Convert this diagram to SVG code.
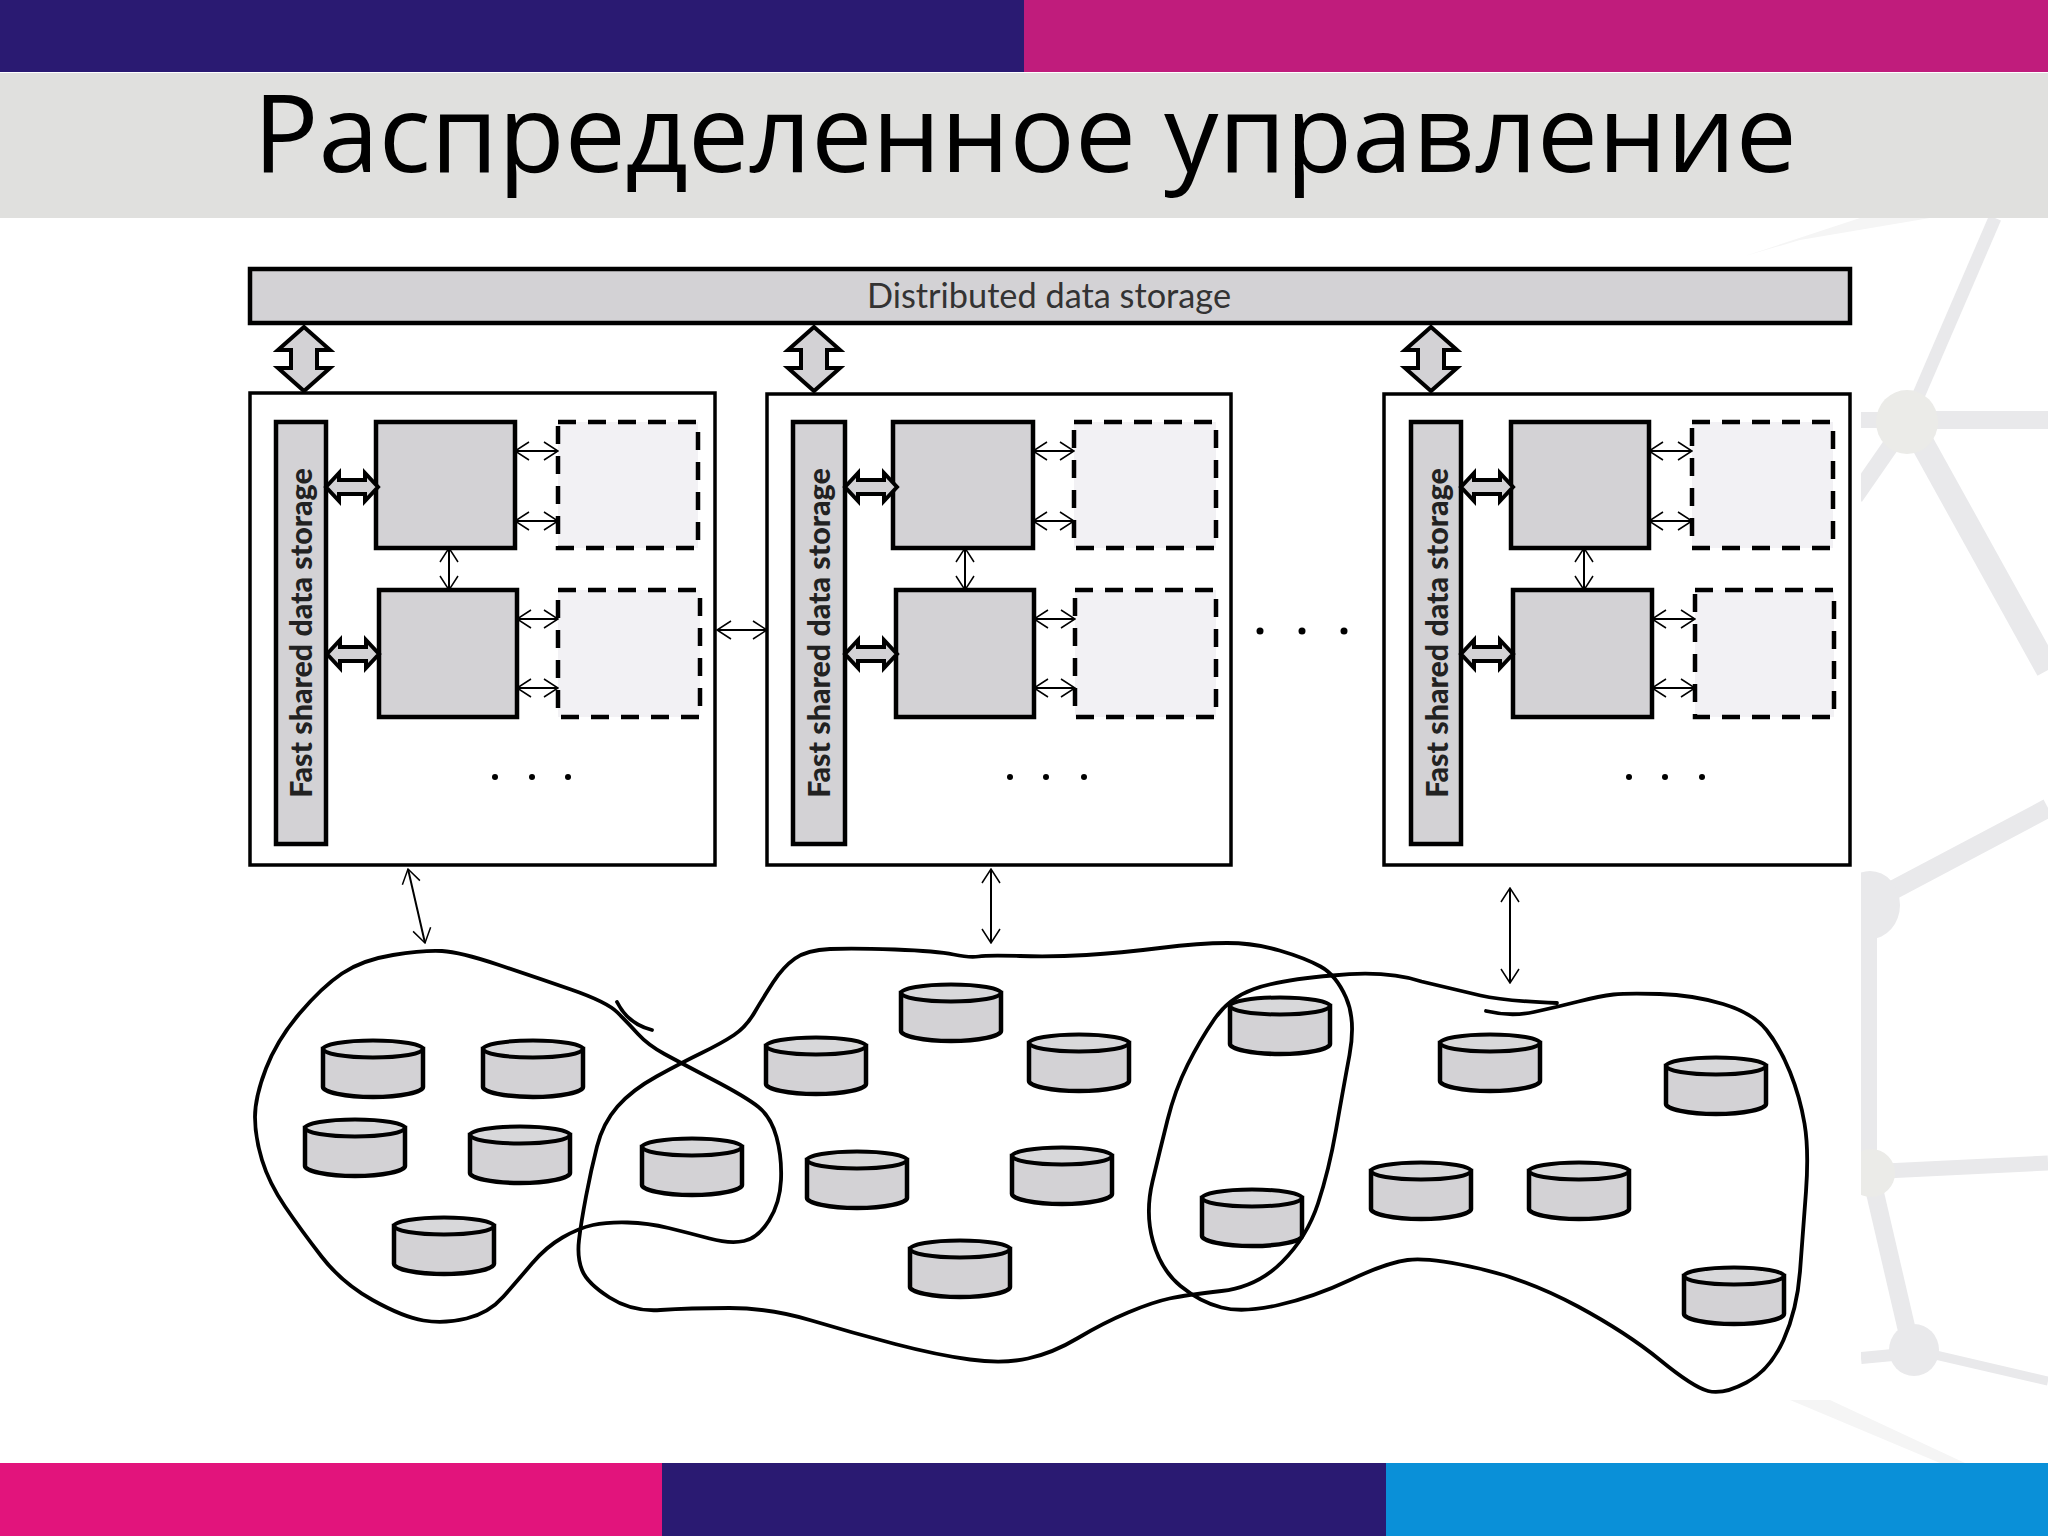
<svg xmlns="http://www.w3.org/2000/svg" width="2048" height="1536" viewBox="0 0 2048 1536">
<style>
.box{fill:#fff;stroke:#000;stroke-width:3.5}
.gray{fill:#d3d2d5;stroke:#000;stroke-width:4.5}
.dash{fill:#f2f1f4;stroke:#000;stroke-width:4.5;stroke-dasharray:18 12}
.thin{stroke:#000;stroke-width:2;fill:none;marker-start:url(#open);marker-end:url(#open)}
.block{fill:#d3d2d5;stroke:#000;stroke-width:4;stroke-linejoin:miter}
.fss{font-family:"Lato","Liberation Sans",sans-serif;font-weight:900;font-size:30.4px;fill:#222;text-anchor:middle}
.blob{fill:none;stroke:#000;stroke-width:3.8;stroke-linecap:round}
.dot{fill:#000}
.net{stroke:#e9e9eb;fill:none}
.hub{fill:#ebebe8}
</style>
<defs>
<marker id="open" viewBox="0 0 16 20" refX="15" refY="10" markerWidth="16" markerHeight="20" markerUnits="userSpaceOnUse" orient="auto-start-reverse"><path d="M1 1L15 10L1 19" fill="none" stroke="#000" stroke-width="1.5"/></marker>
<polygon id="bigv" points="0,1 26,24 13,24 13,42 26,42 0,65 -26,42 -13,42 -13,24 -26,24"/>
<polygon id="smallh" points="0,0 13,-14 13,-7 39,-7 39,-14 52,0 39,14 39,7 13,7 13,14"/>
<g id="cyl"><path d="M2 9V47C2 52 24 57 52 57S102 52 102 47V9Z" fill="#d3d2d5" stroke="#000" stroke-width="4.5"/><ellipse cx="52" cy="9" rx="50" ry="8.5" fill="#d8d8da" stroke="#000" stroke-width="4"/></g>
<clipPath id="netclip"><rect x="1861" y="218" width="187" height="1245"/></clipPath>
</defs>
<rect width="2048" height="1536" fill="#fff"/>
<g id="background-network">
<polygon points="1745,256 1800,240 1930,218 1860,218" fill="#f5f5f5"/>
<polygon points="1790,1400 1830,1400 1965,1463 1940,1463" fill="#f5f5f5"/>
<g clip-path="url(#netclip)">
<path class="net" stroke-width="13" d="M1907 422L1995 218"/>
<path class="net" stroke-width="18" d="M1907 420H2048"/>
<path class="net" stroke-width="16" d="M1907 420H1861"/>
<path class="net" stroke-width="17" d="M1907 422L1855 497"/>
<path class="net" stroke-width="24" d="M1915 430L2048 670"/>
<ellipse class="hub" cx="1907" cy="422" rx="31" ry="32"/>
<path class="net" stroke-width="19" d="M1878 898L2048 808"/>
<path class="net" stroke-width="16" d="M1869 905V1170"/>
<ellipse cx="1870" cy="905" rx="30" ry="34" fill="#e9e9eb"/>
<path class="net" stroke-width="15" d="M1885 1171L2048 1163"/>
<path class="net" stroke-width="18" d="M1872 1180L1908 1335"/>
<ellipse class="hub" cx="1871" cy="1173" rx="24" ry="24"/>
<path class="net" stroke-width="12" d="M1914 1353L1861 1358"/>
<path class="net" stroke-width="9" d="M1914 1350L2048 1381"/>
<ellipse cx="1914" cy="1350" rx="25" ry="26" fill="#e9e9eb"/>
</g>
</g>
<g id="header">
<rect width="1024" height="72" fill="#2a1a72"/>
<rect x="1024" width="1024" height="72" fill="#c01c7c"/>
<rect y="73" width="2048" height="145" fill="#e0e0de"/>
<text x="1025" y="172" font-family="'Open Sans','Noto Sans',sans-serif" font-size="108.6" text-anchor="middle" fill="#000">Распределенное управление</text>
</g>
<g id="footer">
<rect y="1463" width="662" height="73" fill="#e2147c"/>
<rect x="662" y="1463" width="724" height="73" fill="#2a1a72"/>
<rect x="1386" y="1463" width="662" height="73" fill="#0a90d8"/>
</g>
<g id="storage"><rect class="gray" x="250" y="269" width="1600" height="54"/><text x="1049" y="308" font-family="Lato,'Liberation Sans',sans-serif" font-size="34.3" text-anchor="middle" fill="#333">Distributed data storage</text></g>
<g id="module-1">
<rect class="box" x="250" y="393" width="465" height="472"/>
<rect class="gray" x="276" y="422" width="50" height="422"/>
<text class="fss" transform="translate(312 633) rotate(-90)">Fast shared data storage</text>
<rect class="gray" x="376" y="422" width="139" height="126"/>
<rect class="gray" x="379" y="590" width="138" height="127"/>
<rect class="dash" x="558" y="422" width="140" height="126"/>
<rect class="dash" x="558" y="590" width="142" height="127"/>
<circle class="dot" cx="495" cy="777" r="3"/><circle class="dot" cx="532" cy="777" r="3"/><circle class="dot" cx="568" cy="777" r="3"/>
</g>
<g id="module-2">
<rect class="box" x="767" y="394" width="464" height="471"/>
<rect class="gray" x="793" y="422" width="52" height="422"/>
<text class="fss" transform="translate(830 633) rotate(-90)">Fast shared data storage</text>
<rect class="gray" x="893" y="422" width="140" height="126"/>
<rect class="gray" x="896" y="590" width="138" height="127"/>
<rect class="dash" x="1074" y="422" width="142" height="126"/>
<rect class="dash" x="1075" y="590" width="141" height="127"/>
<circle class="dot" cx="1010" cy="777" r="3"/><circle class="dot" cx="1046" cy="777" r="3"/><circle class="dot" cx="1084" cy="777" r="3"/>
</g>
<g id="module-3">
<rect class="box" x="1384" y="394" width="466" height="471"/>
<rect class="gray" x="1411" y="422" width="50" height="422"/>
<text class="fss" transform="translate(1448 633) rotate(-90)">Fast shared data storage</text>
<rect class="gray" x="1511" y="422" width="138" height="126"/>
<rect class="gray" x="1513" y="590" width="139" height="127"/>
<rect class="dash" x="1692" y="422" width="141" height="126"/>
<rect class="dash" x="1695" y="590" width="139" height="127"/>
<circle class="dot" cx="1629" cy="777" r="3"/><circle class="dot" cx="1665" cy="777" r="3"/><circle class="dot" cx="1702" cy="777" r="3"/>
</g>
<g id="ellipsis"><circle class="dot" cx="1260" cy="631" r="3.5"/><circle class="dot" cx="1302" cy="631" r="3.5"/><circle class="dot" cx="1344" cy="631" r="3.5"/></g>
<g id="connectors">
<use href="#bigv" class="block" x="304" y="326"/>
<use href="#bigv" class="block" x="814" y="326"/>
<use href="#bigv" class="block" x="1431" y="326"/>
<use href="#smallh" class="block" x="326" y="487"/><use href="#smallh" class="block" x="327" y="654"/>
<use href="#smallh" class="block" x="845" y="487"/><use href="#smallh" class="block" x="845" y="654"/>
<use href="#smallh" class="block" x="1461" y="487"/><use href="#smallh" class="block" x="1461" y="654"/>
<path class="thin" d="M515 451H558"/><path class="thin" d="M515 521H558"/><path class="thin" d="M517 619H558"/><path class="thin" d="M517 688H558"/><path class="thin" d="M449 548V590"/><path class="thin" d="M717 630H767"/>
<path class="thin" d="M1033 451H1074"/><path class="thin" d="M1033 521H1074"/><path class="thin" d="M1034 619H1075"/><path class="thin" d="M1034 688H1075"/><path class="thin" d="M965 548V590"/>
<path class="thin" d="M1649 451H1692"/><path class="thin" d="M1649 521H1692"/><path class="thin" d="M1652 619H1695"/><path class="thin" d="M1652 688H1695"/><path class="thin" d="M1584 548V590"/>
<path class="thin" d="M408 869L425 943"/><path class="thin" d="M991 869V943"/><path class="thin" d="M1510 888V983"/>
</g>
<g id="clouds">
<path class="blob" d="M442 951Q460 952 497.5 964.5Q535 977 571 989.5Q607 1002 617.5 1012.5Q628 1023 638 1034Q648 1045 664.5 1054Q681 1063 713.5 1080Q746 1097 758.5 1107Q771 1117 776.5 1137Q782 1157 781 1180Q780 1203 769 1220.5Q758 1238 744 1241Q730 1244 709.5 1238.5Q689 1233 668.5 1228Q648 1223 627.5 1222.5Q607 1222 593 1225Q579 1228 562.5 1237.5Q546 1247 532 1263.5Q518 1280 503.5 1296.5Q489 1313 466.5 1318.5Q444 1324 423.5 1320.5Q403 1317 372.5 1300Q342 1283 321.5 1256.5Q301 1230 285 1206.5Q269 1183 262 1160Q255 1137 255 1117Q255 1097 266 1068.5Q277 1040 299.5 1013.5Q322 987 342 973.5Q362 960 393 955Q424 950 442 951Z"/>
<path class="blob" stroke-width="2" d="M617 1002Q628 1024 652 1030"/>
<path class="blob" d="M830 949Q853 948 895 949.5Q937 951 953.5 954.5Q970 958 978.5 956.5Q987 955 1020 956Q1053 957 1086.5 955Q1120 953 1160 948Q1200 943 1227 943Q1254 943 1279.5 950.5Q1305 958 1320.5 966.5Q1336 975 1346 997.5Q1356 1020 1349.5 1055Q1343 1090 1336 1130Q1329 1170 1318 1203.5Q1307 1237 1282 1262Q1257 1287 1221.5 1291Q1186 1295 1169.5 1298.5Q1153 1302 1128 1312.5Q1103 1323 1078 1338Q1053 1353 1028 1358.5Q1003 1364 970 1359.5Q937 1355 895 1344Q853 1333 811.5 1320.5Q770 1308 729.5 1308Q689 1308 660.5 1310Q632 1312 609.5 1297.5Q587 1283 582 1270Q577 1257 579 1240Q581 1223 586 1196.5Q591 1170 597 1146.5Q603 1123 617.5 1106.5Q632 1090 656.5 1076.5Q681 1063 701.5 1053Q722 1043 734 1035Q746 1027 754.5 1012.5Q763 998 773 982.5Q783 967 795 958.5Q807 950 830 949Z"/>
<path class="blob" d="M1557 1003Q1504 1001 1480.5 995.5Q1457 990 1421.5 981.5Q1386 970 1332.5 975.5Q1279 980 1254 989Q1229 998 1214.5 1019Q1200 1040 1187.5 1065Q1175 1090 1167.5 1120Q1160 1150 1152.5 1181.5Q1145 1213 1153 1241.5Q1161 1270 1180.5 1286Q1200 1302 1221.5 1307.5Q1243 1313 1278.5 1305Q1314 1297 1350 1280Q1386 1263 1407.5 1260Q1429 1257 1479 1268.5Q1529 1280 1578 1306.5Q1627 1333 1660 1360Q1693 1387 1708 1391Q1723 1395 1746.5 1382.5Q1770 1370 1783.5 1340Q1797 1310 1800 1271.5Q1803 1233 1806 1191.5Q1809 1150 1804.5 1123.5Q1800 1097 1790 1072Q1780 1047 1766.5 1030Q1753 1013 1723 1004Q1693 995 1660 994Q1627 993 1613.5 994.5Q1600 996 1578.5 1001.5Q1557 1007 1534 1012Q1511 1017 1486 1011"/>
</g>
<g id="cyl-1"><use href="#cyl" x="321" y="1040"/></g>
<g id="cyl-2"><use href="#cyl" x="481" y="1040"/></g>
<g id="cyl-3"><use href="#cyl" x="303" y="1119"/></g>
<g id="cyl-4"><use href="#cyl" x="468" y="1126"/></g>
<g id="cyl-5"><use href="#cyl" x="392" y="1217"/></g>
<g id="cyl-6"><use href="#cyl" x="640" y="1138"/></g>
<g id="cyl-7"><use href="#cyl" x="764" y="1037"/></g>
<g id="cyl-8"><use href="#cyl" x="899" y="984"/></g>
<g id="cyl-9"><use href="#cyl" x="1027" y="1034"/></g>
<g id="cyl-10"><use href="#cyl" x="805" y="1151"/></g>
<g id="cyl-11"><use href="#cyl" x="1010" y="1147"/></g>
<g id="cyl-12"><use href="#cyl" x="908" y="1240"/></g>
<g id="cyl-13"><use href="#cyl" x="1228" y="997"/></g>
<g id="cyl-14"><use href="#cyl" x="1438" y="1034"/></g>
<g id="cyl-15"><use href="#cyl" x="1664" y="1057"/></g>
<g id="cyl-16"><use href="#cyl" x="1369" y="1162"/></g>
<g id="cyl-17"><use href="#cyl" x="1527" y="1162"/></g>
<g id="cyl-18"><use href="#cyl" x="1200" y="1189"/></g>
<g id="cyl-19"><use href="#cyl" x="1682" y="1267"/></g>
</svg>
